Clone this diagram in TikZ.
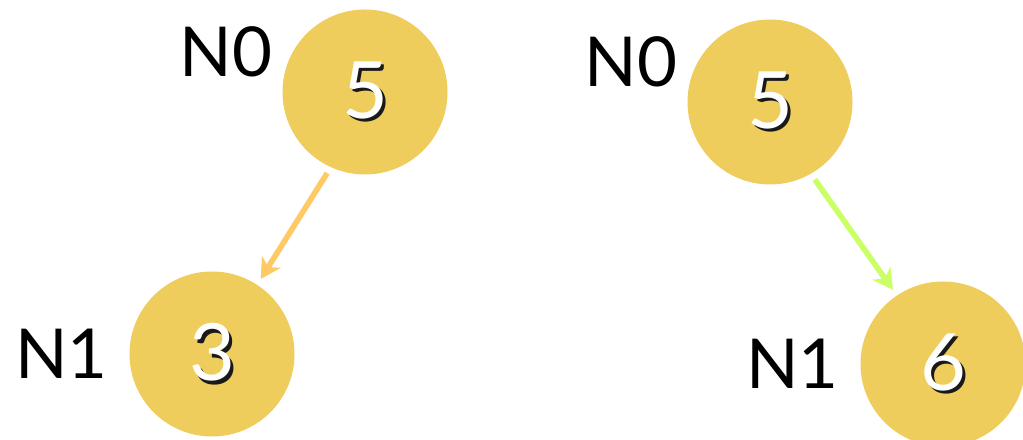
\documentclass[tikz,border=0pt]{standalone}
\usepackage{fontspec}
\setmainfont{Lato}
\usetikzlibrary{arrows.meta}
\definecolor{nodefill}{RGB}{239,205,92}
\definecolor{leftedge}{RGB}{255,201,102}
\definecolor{rightedge}{RGB}{202,255,102}
\newcommand{\labelfont}{\fontsize{19.6}{22}\selectfont}
\newcommand{\numfont}{\fontsize{22.5}{25}\selectfont}
\newcommand{\shadenum}[1]{\makebox[0pt][l]{\hspace{0.035cm}\raisebox{-0.035cm}{\color{black!90}#1}}#1}
\begin{document}
\begin{tikzpicture}
[font=\labelfont]
\tikzstyle{vertex}=[circle, fill=nodefill, inner sep=0mm, outer sep=0.07cm, minimum size=1.65cm, text=white, font=\numfont]
\tikzstyle{edge}=[line width=1.6pt, -{Stealth[length=0.2cm, width=0.22cm, inset=0.06cm]}]
\useasboundingbox (0,0) rectangle (10.23,-4.4);

% tree before insertion
\node[vertex]	(L0)	at (3.65,-0.92)	[label={[inner sep=0pt, label distance=0.06cm, yshift=-0.1cm]165:{N0}}]	{\shadenum{5}};
\node[vertex]	(L1)	at (2.12,-3.54)	[label={[inner sep=0pt, label distance=0.14cm]left:{N1}}]	{\shadenum{3}};

% tree after insertion
\node[vertex]	(R0)	at (7.70,-1.02)	[label={[inner sep=0pt, label distance=0.06cm, yshift=-0.1cm]165:{N0}}]	{\shadenum{5}};
\node[vertex]	(R1)	at (9.43,-3.64)	[label={[inner sep=0pt, label distance=0.14cm]left:{N1}}]	{\shadenum{6}};

\draw [edge, leftedge] (L0.245)--(L1.57);
\draw [edge, rightedge] (R0.300)--(R1.124);

\end{tikzpicture}
\end{document}
